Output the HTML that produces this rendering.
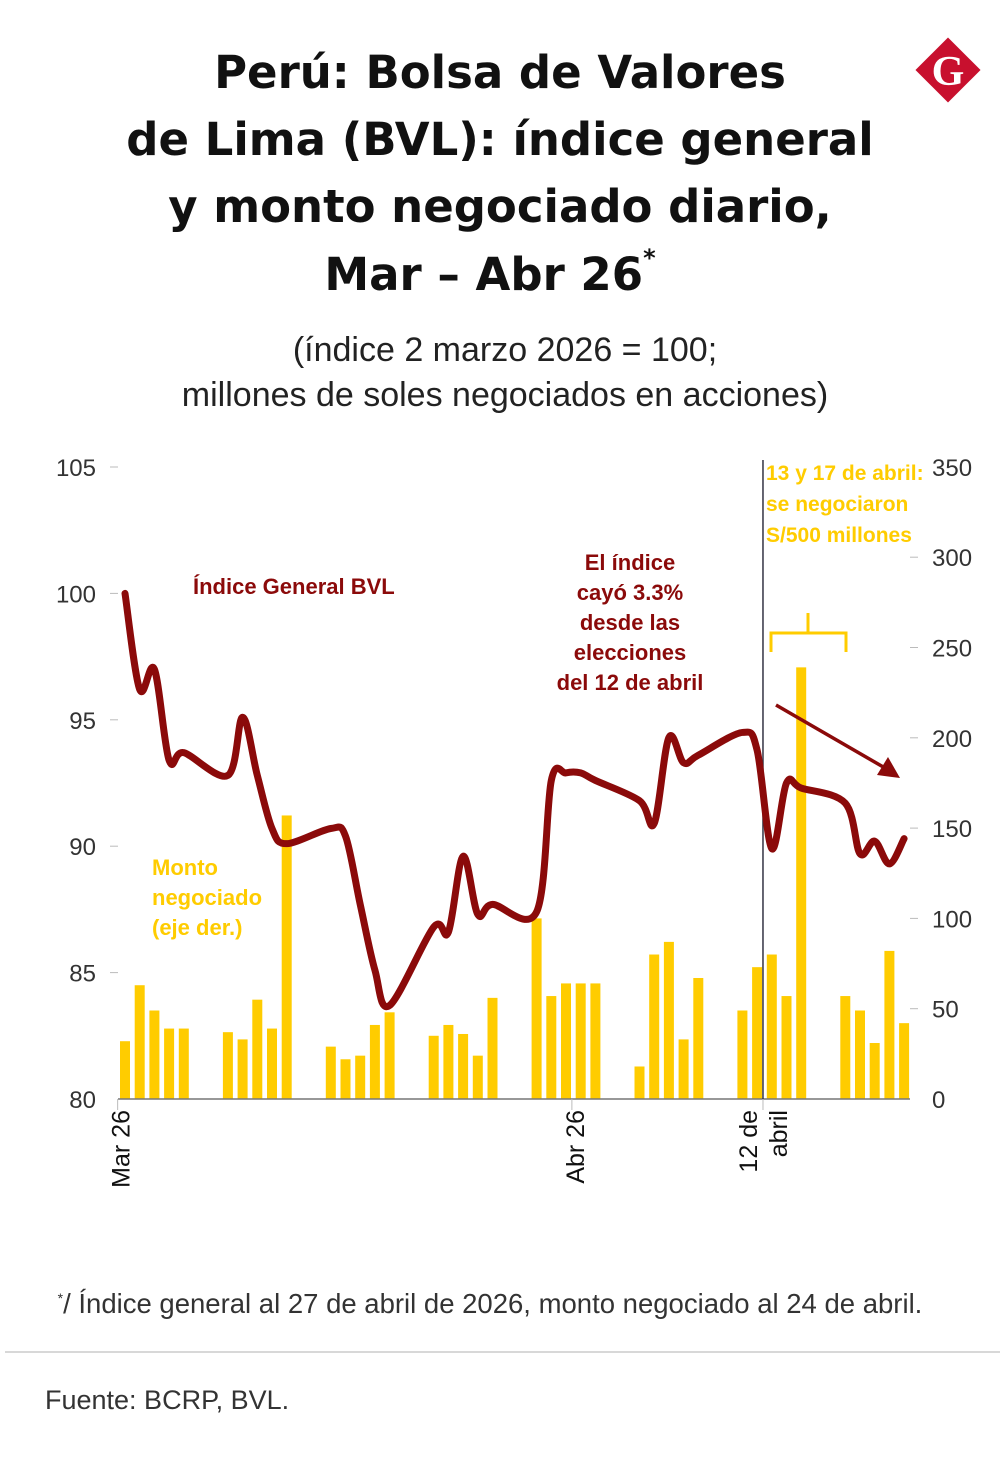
<!DOCTYPE html>
<html><head><meta charset="utf-8"><style>
body{margin:0;background:#fff;width:1001px;height:1469px;overflow:hidden;font-family:"Liberation Sans","DejaVu Sans",sans-serif}
</style></head><body>
<svg width="1001" height="1469" viewBox="0 0 1001 1469">
<g font-family="'DejaVu Sans','Liberation Sans',sans-serif" font-weight="bold" font-size="45" text-anchor="middle" fill="#111">
<text x="500" y="88">Perú: Bolsa de Valores</text>
<text x="500" y="155">de Lima (BVL): índice general</text>
<text x="500" y="222">y monto negociado diario,</text>
<text x="490" y="290">Mar – Abr 26<tspan font-size="24" dy="-24">*</tspan></text>
</g>
<g>
<rect x="925" y="47" width="46" height="46" fill="#c8102e" transform="rotate(45 948 70)"/>
<text x="948" y="85" font-family="'Liberation Serif',serif" font-weight="bold" font-size="42" fill="#fff" text-anchor="middle">G</text>
</g>
<g font-size="34" text-anchor="middle" fill="#222">
<text x="505" y="361">(índice 2 marzo 2026 = 100;</text>
<text x="505" y="406">millones de soles negociados en acciones)</text>
</g>
<g id="plot"></g>
<text x="490" y="1313" font-size="27.5" text-anchor="middle" fill="#333"><tspan font-size="14" dy="-10">*</tspan><tspan dy="10">/ Índice general al 27 de abril de 2026, monto negociado al 24 de abril.</tspan></text>
<line x1="5" y1="1352" x2="1000" y2="1352" stroke="#ccc" stroke-width="1.5"/>
<text x="45" y="1409" font-size="27" fill="#333">Fuente: BCRP, BVL.</text>
</svg>
<script>
const days = [2,3,4,5,6,9,10,11,12,13,16,17,18,19,20,23,24,25,26,27,30,31,32,33,34,37,38,39,40,41,44,45,46,47,48,51,52,53,54,55];
const volumes = [32,63,49,39,39,37,33,55,39,157,29,22,24,41,48,35,41,36,24,56,100,57,64,64,64,18,80,87,33,67,49,73,80,57,239,57,49,31,82,42];
const indexValues = [100,96.2,97.0,93.4,93.7,92.8,95.1,92.8,90.7,90.1,90.7,90.4,87.7,85.1,83.7,86.8,86.6,89.6,87.3,87.7,87.4,92.6,92.9,92.9,92.6,91.8,90.9,94.3,93.3,93.6,94.5,93.8,89.9,92.5,92.3,91.7,89.7,90.2,89.3,90.3];
const leftTicks = [80,85,90,95,100,105];
const rightTicks = [0,50,100,150,200,250,300,350];
const xTickLabels = [["Mar 26"],["Abr 26"],["12 de","abril"]];
const xTickDays = [1.5,32.4,45.4];

const NS="http://www.w3.org/2000/svg";
const plot=document.getElementById('plot');
const x=d=>125+(d-2)*14.7;
const yL=v=>1099-(v-80)*25.28;
const yR=v=>1099-v*1.806;
function mk(t,a,p){const e=document.createElementNS(NS,t);for(const k in a)e.setAttribute(k,a[k]);(p||plot).appendChild(e);return e;}
leftTicks.forEach(v=>{
 const t=mk('text',{x:96,y:yL(v)+9,'font-size':24,'text-anchor':'end',fill:'#333'});t.textContent=v;
 
 
 if(v>80){const l=mk('line',{x1:110,x2:118,y1:yL(v),y2:yL(v),stroke:'#bbb'});
 
 }
});
rightTicks.forEach(v=>{
 const t=mk('text',{x:932,y:yR(v)+9,'font-size':24,fill:'#333'});t.textContent=v;
 
 
 if(v>0&&v<350){const l=mk('line',{x1:910,x2:918,y1:yR(v),y2:yR(v),stroke:'#bbb'});
 
 }
});
volumes.forEach((v,i)=>{
 const r=mk('rect',{x:x(days[i])-5,y:yR(v),width:10,height:1099-yR(v),fill:'#FFCC00'});
 
 
});
const bl=mk('line',{x1:118,x2:910,y1:1099,y2:1099,stroke:'#777','stroke-width':1.5});


xTickDays.forEach((d,i)=>{
 const l=mk('line',{x1:x(d),x2:x(d),y1:1099,y2:1110,stroke:'#bbb'});
 
 
 const t=mk('text',{transform:`translate(${x(d)+(xTickLabels[i].length>1?-6:12)},1110) rotate(-90)`,'font-size':25,'text-anchor':'end',fill:'#111'});
 
 
 xTickLabels[i].forEach((s,j)=>{const ts=mk('tspan',{x:0,dy:j?30:0},t);ts.textContent=s;});
});
const vl=mk('line',{x1:x(45.4),x2:x(45.4),y1:460,y2:1099,stroke:'#334',"stroke-width":1.5});


const pts=days.map((d,i)=>[x(d),yL(indexValues[i])]);
let dstr=`M${pts[0][0]},${pts[0][1]}`;
for(let i=0;i<pts.length-1;i++){const p0=pts[i-1]||pts[i],p1=pts[i],p2=pts[i+1],p3=pts[i+2]||p2;
 dstr+=` C${p1[0]+(p2[0]-p0[0])/6},${p1[1]+(p2[1]-p0[1])/6} ${p2[0]-(p3[0]-p1[0])/6},${p2[1]-(p3[1]-p1[1])/6} ${p2[0]},${p2[1]}`;}
const ln=mk('path',{d:dstr,fill:'none',stroke:'#8B0A0A','stroke-width':7,'stroke-linejoin':'round','stroke-linecap':'round'});


function txt(lines,xx,yy,lh,col,name,anchor,fs){const t=mk('text',{x:xx,y:yy,'font-size':fs||22,'font-weight':'bold',fill:col,'text-anchor':anchor||'start'});
 
 
 lines.forEach((s,j)=>{const ts=mk('tspan',{x:xx,dy:j?lh:0},t);ts.textContent=s;});}
txt(['Índice General BVL'],193,594,30,'#8B0A0A','index-label');
txt(['Monto','negociado','(eje der.)'],152,875,30,'#FFCC00','volume-label');
txt(['El índice','cayó 3.3%','desde las','elecciones','del 12 de abril'],630,570,30,'#8B0A0A','drop-annotation','middle');
txt(['13 y 17 de abril:','se negociaron','S/500 millones'],766,480,31,'#FFCC00','volume-annotation','start',21);
const br=mk('path',{d:'M771,652 V633 H808 V613 M808,633 H846 V652',fill:'none',stroke:'#FFCC00','stroke-width':3});


const ar=mk('line',{x1:776,y1:705,x2:885,y2:768,stroke:'#8B0A0A','stroke-width':3.5});


const ah=mk('polygon',{points:'900,778 877,775 888,757',fill:'#8B0A0A'});


</script>
</body></html>
